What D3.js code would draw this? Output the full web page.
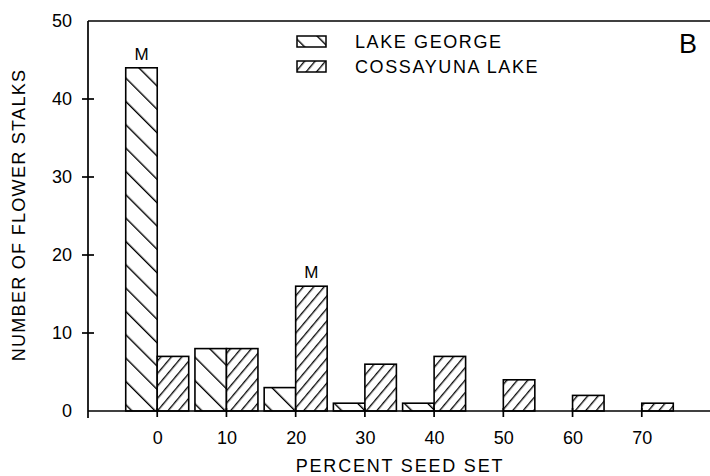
<!DOCTYPE html>
<html><head><meta charset="utf-8">
<script src="https://cdn.jsdelivr.net/npm/d3@7/dist/d3.min.js"></script>
<style>
body{margin:0;background:#fff;}
text{font-family:"Liberation Sans",Arial,sans-serif;fill:#000;}
</style></head>
<body><svg id="chart" width="710" height="476"></svg>
<script>
const categories = [0, 10, 20, 30, 40, 50, 60, 70];
const lakeGeorge = [44, 8, 3, 1, 1, 0, 0, 0];
const cossayuna = [7, 8, 16, 6, 7, 4, 2, 1];
const yTicks = [0, 10, 20, 30, 40, 50];
const seriesNames = ["LAKE GEORGE", "COSSAYUNA LAKE"];
const medianMarks = [{series: 0, cat: 0, label: "M"}, {series: 1, cat: 20, label: "M"}];

const svg = d3.select("#chart");
const x = d3.scaleLinear().domain([-10, 80]).range([88, 711]);
const y = d3.scaleLinear().domain([0, 50]).range([411, 21]);
const halfW = 4.55;

const defs = svg.append("defs");
function hatch(id, spacing, angle, sw) {
  const p = defs.append("pattern").attr("id", id).attr("patternUnits", "userSpaceOnUse")
    .attr("width", spacing).attr("height", spacing)
    .attr("patternTransform", `rotate(${angle})`);
  p.append("rect").attr("width", spacing).attr("height", spacing).attr("fill", "#fff");
  p.append("line").attr("x1", 0.7).attr("y1", 0).attr("x2", 0.7).attr("y2", spacing)
    .attr("stroke", "#000").attr("stroke-width", sw);
}
hatch("hLG", 16.5, -45, 1.4);
hatch("hC", 8, 40, 1.3);

// bars
const g = svg.append("g");
categories.forEach((c, i) => {
  if (lakeGeorge[i] > 0) {
    g.append("rect").attr("x", x(c - halfW)).attr("width", x(c) - x(c - halfW))
      .attr("y", y(lakeGeorge[i])).attr("height", y(0) - y(lakeGeorge[i]))
      .attr("fill", "url(#hLG)").attr("stroke", "#000").attr("stroke-width", 1.6);
  }
  if (cossayuna[i] > 0) {
    g.append("rect").attr("x", x(c)).attr("width", x(c + halfW) - x(c))
      .attr("y", y(cossayuna[i])).attr("height", y(0) - y(cossayuna[i]))
      .attr("fill", "url(#hC)").attr("stroke", "#000").attr("stroke-width", 1.6);
  }
});

// median labels
medianMarks.forEach(m => {
  const i = categories.indexOf(m.cat);
  const v = m.series === 0 ? lakeGeorge[i] : cossayuna[i];
  const cx = m.series === 0 ? x(m.cat - halfW / 2) : x(m.cat + halfW / 2);
  svg.append("text").attr("x", cx).attr("y", y(v) - 8).attr("text-anchor", "middle")
    .attr("font-size", 17).text(m.label);
});

// axes
const ax = svg.append("g").attr("stroke", "#000").attr("stroke-width", 1.7).attr("fill", "none");
ax.append("line").attr("x1", x(-10)).attr("x2", 710).attr("y1", y(0)).attr("y2", y(0));
ax.append("line").attr("x1", x(-10)).attr("x2", 710).attr("y1", y(50)).attr("y2", y(50));
ax.append("line").attr("x1", x(-10)).attr("x2", x(-10)).attr("y1", y(50)).attr("y2", y(0) + 7);

const yAxis = d3.axisLeft(y).tickValues(yTicks).tickSize(0).tickPadding(16);
const yg = svg.append("g").attr("transform", `translate(${x(-10)},0)`).call(yAxis);
yg.select(".domain").remove();
yg.selectAll("text").attr("font-size", 18).style("font-family", "Liberation Sans, Arial, sans-serif").attr("fill", "#000");
yTicks.filter(t => t > 0 && t < 50).forEach(t => {
  ax.append("line").attr("x1", x(-10) - 6).attr("x2", x(-10) + 6).attr("y1", y(t)).attr("y2", y(t));
});

const xAxis = d3.axisBottom(x).tickValues(categories).tickSize(0).tickPadding(20);
const xg = svg.append("g").attr("transform", `translate(0,${y(0)})`).call(xAxis);
xg.select(".domain").remove();
xg.selectAll("text").attr("font-size", 18).style("font-family", "Liberation Sans, Arial, sans-serif").attr("fill", "#000");
categories.forEach(c => {
  ax.append("line").attr("x1", x(c)).attr("x2", x(c)).attr("y1", y(0) - 3).attr("y2", y(0) + 6);
});

// axis titles
svg.append("text").attr("x", 400).attr("y", 472).attr("text-anchor", "middle")
  .attr("font-size", 18).attr("letter-spacing", 1.8).text("PERCENT SEED SET");
svg.append("text").attr("transform", "translate(25,215) rotate(-90)").attr("text-anchor", "middle")
  .attr("font-size", 18).attr("letter-spacing", 1.3).text("NUMBER OF FLOWER STALKS");

// legend
const leg = svg.append("g");
const legY = [48, 73];
const legFill = ["url(#hLG)", "url(#hC)"];
seriesNames.forEach((n, i) => {
  leg.append("rect").attr("x", 297).attr("y", legY[i] - 12).attr("width", 29).attr("height", 11)
    .attr("fill", legFill[i]).attr("stroke", "#000").attr("stroke-width", 1.5);
  leg.append("text").attr("x", 355).attr("y", legY[i]).attr("font-size", 18)
    .attr("letter-spacing", 1.6).text(n);
});
svg.append("text").attr("x", 679).attr("y", 53).attr("font-size", 27).text("B");
</script></body></html>
